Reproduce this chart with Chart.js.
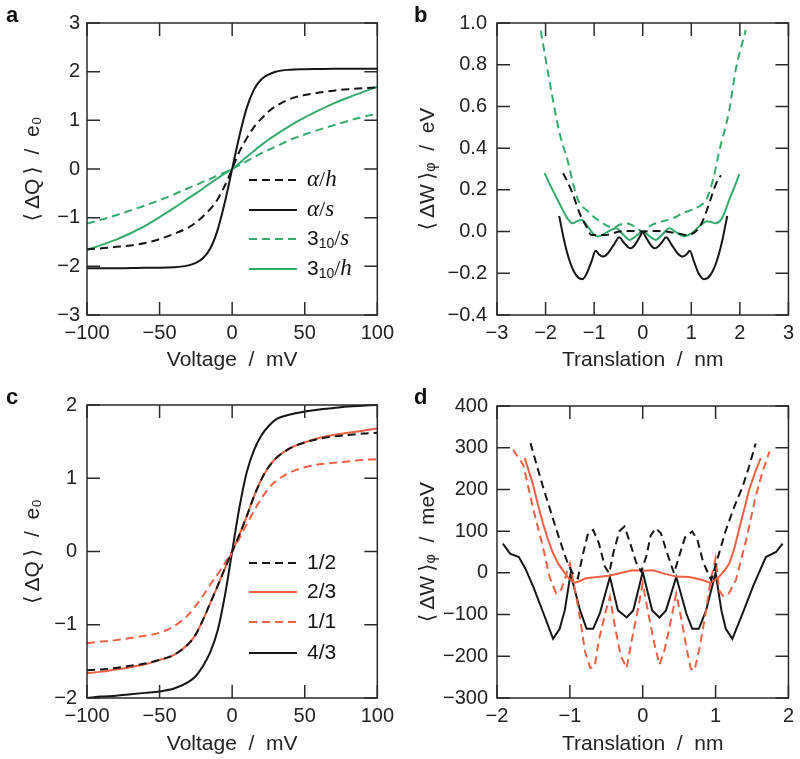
<!DOCTYPE html>
<html>
<head>
<meta charset="utf-8">
<script src="https://cdn.jsdelivr.net/npm/chart.js@4.4.0/dist/chart.umd.min.js"></script>
<style>
  body { margin: 0; background: #fff; }
  #fig { position: relative; width: 800px; height: 759px; }
  .panel { position: absolute; }
  .tag { position: absolute; font: bold 22px "Liberation Sans", sans-serif; line-height: 22px; color: #111; }
</style>
</head>
<body>
<div id="fig">
  <div class="panel" style="left:0;top:0;width:400px;height:380px"><canvas id="chartA"></canvas></div>
  <div class="panel" style="left:400px;top:0;width:400px;height:380px"><canvas id="chartB"></canvas></div>
  <div class="panel" style="left:0;top:380px;width:400px;height:379px"><canvas id="chartC"></canvas></div>
  <div class="panel" style="left:400px;top:380px;width:400px;height:379px"><canvas id="chartD"></canvas></div>
  <div class="tag" style="left:6px;top:4px">a</div>
  <div class="tag" style="left:414px;top:4px">b</div>
  <div class="tag" style="left:6px;top:386px">c</div>
  <div class="tag" style="left:414px;top:386px">d</div>
</div>
<script>
// ---- panel a : charge vs voltage ----
const voltage = [-100, -90, -80, -70, -60, -50, -40, -30, -25, -20, -15, -10, -5, 0, 5, 10, 15, 20, 25, 30, 40, 50, 60, 70, 80, 90, 100];
const qAlphaH = [-1.65, -1.63, -1.60, -1.57, -1.52, -1.44, -1.33, -1.20, -1.10, -0.97, -0.82, -0.62, -0.34, 0, 0.36, 0.63, 0.86, 1.03, 1.18, 1.29, 1.44, 1.52, 1.57, 1.61, 1.64, 1.66, 1.68];
const qAlphaS = [-2.04, -2.04, -2.04, -2.035, -2.03, -2.03, -2.02, -1.98, -1.93, -1.83, -1.63, -1.25, -0.68, 0, 0.68, 1.25, 1.63, 1.84, 1.94, 2.0, 2.04, 2.05, 2.055, 2.06, 2.06, 2.06, 2.06];
const q310S = [-1.12, -1.04, -0.95, -0.85, -0.75, -0.64, -0.52, -0.39, -0.33, -0.26, -0.20, -0.13, -0.07, 0, 0.08, 0.16, 0.24, 0.32, 0.39, 0.46, 0.60, 0.71, 0.81, 0.90, 0.99, 1.07, 1.14];
const q310H = [-1.66, -1.56, -1.45, -1.32, -1.17, -0.99, -0.80, -0.60, -0.50, -0.40, -0.29, -0.19, -0.09, 0, 0.12, 0.25, 0.37, 0.49, 0.60, 0.70, 0.89, 1.06, 1.21, 1.35, 1.47, 1.58, 1.69];
const labelsA = ['α/h', 'α/s', '3₁₀/s', '3₁₀/h'];

// ---- panel b : energy vs translation ----
const bxAlphaS = [-1.72, -1.62, -1.52, -1.42, -1.32, -1.24, -1.15, -1.05, -0.97, -0.9, -0.82, -0.72, -0.6, -0.48, -0.4, -0.3, -0.24, -0.15, -0.06, 0, 0.06, 0.15, 0.24, 0.3, 0.4, 0.48, 0.6, 0.72, 0.82, 0.9, 0.97, 1.05, 1.15, 1.26, 1.34, 1.44, 1.54, 1.64, 1.74];
const bwAlphaS = [0.075, -0.04, -0.13, -0.19, -0.222, -0.228, -0.2, -0.14, -0.092, -0.11, -0.12, -0.105, -0.065, -0.027, -0.05, -0.075, -0.08, -0.06, -0.025, -0.003, -0.025, -0.06, -0.08, -0.075, -0.05, -0.027, -0.065, -0.105, -0.12, -0.11, -0.092, -0.14, -0.2, -0.228, -0.222, -0.19, -0.13, -0.04, 0.075];
const bxAlphaH = [-1.64, -1.54, -1.44, -1.3, -1.16, -1.06, -0.9, -0.75, -0.48, -0.25, 0, 0.25, 0.48, 0.75, 0.89, 1.0, 1.09, 1.23, 1.37, 1.5, 1.61];
const bwAlphaH = [0.28, 0.235, 0.18, 0.088, 0.024, -0.016, -0.017, -0.016, 0, 0.003, 0, 0.003, 0, -0.01, -0.016, -0.012, 0, 0.048, 0.136, 0.224, 0.27];
const bx310S = [-2.1, -1.91, -1.71, -1.54, -1.4, -1.3, -1.16, -0.95, -0.75, -0.62, -0.45, -0.34, -0.17, 0, 0.17, 0.34, 0.5, 0.68, 0.82, 0.96, 1.16, 1.3, 1.4, 1.47, 1.57, 1.78, 1.91, 2.12];
const bw310S = [0.963, 0.71, 0.47, 0.335, 0.2, 0.136, 0.104, 0.06, 0.03, 0.018, 0.035, 0.04, 0.025, 0, 0.03, 0.045, 0.055, 0.07, 0.088, 0.1, 0.12, 0.15, 0.21, 0.27, 0.38, 0.58, 0.77, 0.966];
const bx310H = [-2.02, -1.9, -1.78, -1.66, -1.54, -1.44, -1.35, -1.26, -1.13, -1.02, -0.92, -0.75, -0.55, -0.4, -0.27, -0.13, 0, 0.13, 0.27, 0.4, 0.55, 0.7, 0.85, 1.0, 1.16, 1.33, 1.42, 1.5, 1.61, 1.7, 1.78, 1.9, 1.99];
const bw310H = [0.28, 0.22, 0.165, 0.11, 0.06, 0.04, 0.05, 0.056, 0.024, -0.01, -0.024, -0.005, 0.016, -0.015, -0.04, -0.02, 0, -0.02, -0.04, -0.015, 0.016, -0.005, -0.022, -0.01, 0.024, 0.05, 0.045, 0.04, 0.056, 0.1, 0.152, 0.22, 0.276];

// ---- panel c : charge vs voltage, ratios ----
const qRatio12 = [-1.62, -1.61, -1.59, -1.56, -1.53, -1.48, -1.41, -1.26, -1.13, -0.93, -0.70, -0.47, -0.23, 0, 0.23, 0.48, 0.75, 0.98, 1.15, 1.27, 1.41, 1.49, 1.54, 1.57, 1.59, 1.61, 1.62];
const qRatio23 = [-1.66, -1.64, -1.61, -1.58, -1.54, -1.48, -1.41, -1.26, -1.13, -0.93, -0.70, -0.47, -0.23, 0, 0.23, 0.48, 0.75, 0.98, 1.15, 1.27, 1.41, 1.49, 1.55, 1.59, 1.62, 1.65, 1.68];
const qRatio11 = [-1.25, -1.23, -1.21, -1.18, -1.15, -1.11, -1.02, -0.86, -0.74, -0.60, -0.45, -0.31, -0.16, 0, 0.18, 0.37, 0.55, 0.72, 0.86, 0.96, 1.08, 1.15, 1.19, 1.21, 1.23, 1.25, 1.26];
const qRatio43 = [-2.0, -1.98, -1.97, -1.95, -1.93, -1.91, -1.87, -1.78, -1.70, -1.56, -1.37, -1.08, -0.60, 0, 0.60, 1.08, 1.38, 1.58, 1.71, 1.80, 1.87, 1.91, 1.94, 1.96, 1.98, 1.99, 2.0];
const labelsC = ['1/2', '2/3', '1/1', '4/3'];

// ---- panel d : energy vs translation, ratios ----
const dx12 = [-1.54, -1.45, -1.37, -1.25, -1.14, -1.03, -0.95, -0.89, -0.82, -0.75, -0.68, -0.6, -0.52, -0.46, -0.4, -0.32, -0.25, -0.17, -0.09, -0.02, 0.05, 0.11, 0.18, 0.25, 0.33, 0.43, 0.5, 0.58, 0.68, 0.75, 0.83, 0.94, 1.02, 1.14, 1.26, 1.37, 1.46, 1.55];
const dw12 = [311, 255, 207, 140, 79, 23, -5, -13, 45, 95, 103, 70, 15, -1, 50, 100, 111, 70, 25, 3, 40, 90, 107, 95, 50, -1, 40, 85, 99, 80, 25, -17, 30, 102, 160, 206, 255, 310];
const dx23 = [-1.62, -1.51, -1.44, -1.37, -1.3, -1.23, -1.16, -1.1, -1.03, -0.94, -0.87, -0.78, -0.62, -0.46, -0.32, -0.14, 0, 0.14, 0.32, 0.46, 0.64, 0.82, 0.93, 1.0, 1.05, 1.12, 1.19, 1.26, 1.32, 1.39, 1.46, 1.54, 1.62];
const dw23 = [275, 215, 165, 119, 80, 47, 22, 7, -10, -24, -20, -13, -10, -7, -1, 6, 5, 6, -3, -9, -10, -17, -24, -16, -9, 5, 23, 60, 103, 150, 199, 240, 275];
const dx11 = [-1.78, -1.64, -1.51, -1.44, -1.37, -1.28, -1.19, -1.12, -1.06, -1.0, -0.93, -0.86, -0.79, -0.72, -0.66, -0.6, -0.52, -0.45, -0.38, -0.3, -0.22, -0.16, -0.08, 0, 0.08, 0.16, 0.23, 0.3, 0.38, 0.46, 0.53, 0.6, 0.66, 0.71, 0.78, 0.86, 0.93, 1.0, 1.05, 1.1, 1.17, 1.28, 1.42, 1.55, 1.64, 1.74];
const dw11 = [295, 259, 159, 110, 63, -9, -49, -41, -10, 23, -40, -110, -190, -228, -225, -160, -100, -58, -130, -200, -228, -170, -100, -25, -100, -170, -220, -185, -120, -50, -110, -180, -230, -234, -180, -100, -20, 35, -42, -55, -53, -17, 79, 183, 240, 291];
const dx43 = [-1.92, -1.82, -1.7, -1.61, -1.5, -1.36, -1.23, -1.14, -1.07, -0.99, -0.86, -0.77, -0.68, -0.59, -0.45, -0.34, -0.22, -0.13, 0, 0.13, 0.23, 0.32, 0.46, 0.6, 0.68, 0.77, 0.87, 1.0, 1.08, 1.14, 1.23, 1.37, 1.51, 1.62, 1.69, 1.83, 1.92];
const dw43 = [70, 46, 38, 10, -34, -98, -158, -134, -90, -2, -90, -134, -134, -98, -10, -90, -107, -90, 2, -90, -107, -90, -10, -98, -134, -134, -90, 0, -90, -134, -158, -98, -34, 10, 38, 50, 70];

const BLACK = '#161616';
const GREEN = '#36a96e';
const RED = '#ec6044';
const DASH = [8, 5];
const TICK_LEN = 13;
const FONT = '"Liberation Sans", "DejaVu Sans", sans-serif';

function pts(xs, ys) {
  return xs.map((x, i) => ({ x: x, y: ys[i] }));
}

function minus(v) {
  return String(v).replace('-', '\u2212');
}

function fixed1(v) {
  if (Math.abs(v) < 1e-9) v = 0;
  return minus(v.toFixed(1));
}

// frame around the plot with inward ticks on all four sides
const frameTicks = {
  id: 'frameTicks',
  afterDatasetsDraw(chart) {
    const { ctx, chartArea: a, scales } = chart;
    ctx.save();
    ctx.strokeStyle = '#2a2a2a';
    ctx.lineWidth = 1.5;
    ctx.strokeRect(a.left, a.top, a.right - a.left, a.bottom - a.top);
    ctx.beginPath();
    scales.x.ticks.forEach(t => {
      const px = scales.x.getPixelForValue(t.value);
      ctx.moveTo(px, a.bottom); ctx.lineTo(px, a.bottom - TICK_LEN);
      ctx.moveTo(px, a.top); ctx.lineTo(px, a.top + TICK_LEN);
    });
    scales.y.ticks.forEach(t => {
      const py = scales.y.getPixelForValue(t.value);
      ctx.moveTo(a.left, py); ctx.lineTo(a.left + TICK_LEN, py);
      ctx.moveTo(a.right, py); ctx.lineTo(a.right - TICK_LEN, py);
    });
    ctx.stroke();
    ctx.restore();
  }
};

// label with math parts: greek / letters italic serif, subscripts smaller
function drawLabel(ctx, text, x, y) {
  ctx.textBaseline = 'middle';
  ctx.textAlign = 'left';
  ctx.fillStyle = '#111';
  if (!/[α₀-₉]/.test(text)) {
    ctx.font = '21px ' + FONT;
    ctx.fillText(text, x, y);
    return;
  }
  const subMap = { '₀': '0', '₁': '1' };
  let cx = x;
  for (const ch of text) {
    let dy = 0;
    let s = ch;
    if (subMap[ch]) {
      ctx.font = '14px ' + FONT; s = subMap[ch]; dy = 5;
    } else if (/[0-9]/.test(ch)) {
      ctx.font = '21px ' + FONT;
    } else if (ch === '/') {
      ctx.font = '22px "Liberation Serif", serif';
    } else {
      ctx.font = 'italic 23px "Liberation Serif", serif';
    }
    ctx.fillText(s, cx, y + dy);
    cx += ctx.measureText(s).width;
  }
}

const insideLegend = {
  id: 'insideLegend',
  afterDraw(chart, args, opts) {
    if (!opts || !opts.rows) return;
    const ctx = chart.ctx;
    chart.data.datasets.forEach((ds, i) => {
      const y = opts.rows[i];
      ctx.save();
      ctx.strokeStyle = ds.borderColor;
      ctx.lineWidth = ds.borderWidth;
      ctx.setLineDash(ds.borderDash || []);
      ctx.beginPath();
      ctx.moveTo(opts.x0, y);
      ctx.lineTo(opts.x1, y);
      ctx.stroke();
      ctx.restore();
      drawLabel(ctx, ds.label, opts.tx, y);
    });
  }
};

function line(label, data, color, dashed, smooth) {
  return {
    label: label,
    data: data,
    borderColor: color,
    borderWidth: 2,
    borderDash: dashed ? DASH : [],
    pointRadius: 0,
    fill: false,
    tension: 0,
    cubicInterpolationMode: smooth ? 'monotone' : 'default'
  };
}

function makeChart(id, datasets, cfg) {
  const tickFont = { family: FONT, size: 20 };
  const titleFont = { family: FONT, size: 21 };
  return new Chart(document.getElementById(id), {
    type: 'line',
    data: { datasets: datasets },
    options: {
      responsive: true,
      maintainAspectRatio: false,
      animation: false,
      layout: { padding: { top: cfg.top, right: cfg.right, left: 0, bottom: 0 } },
      plugins: {
        legend: { display: false },
        tooltip: { enabled: false },
        insideLegend: cfg.legend || {}
      },
      scales: {
        x: {
          type: 'linear',
          min: cfg.xMin, max: cfg.xMax,
          grid: { display: false, drawTicks: false },
          border: { display: false },
          ticks: {
            stepSize: cfg.xStep, autoSkip: false, maxRotation: 0, padding: 6,
            color: '#222', font: tickFont,
            callback: v => minus(v)
          },
          title: { display: true, text: cfg.xTitle, color: '#222', font: titleFont, padding: { top: 0, bottom: cfg.xTitlePad } },
          afterFit: s => { s.height = cfg.xHeight; }
        },
        y: {
          type: 'linear',
          min: cfg.yMin, max: cfg.yMax,
          grid: { display: false, drawTicks: false },
          border: { display: false },
          ticks: {
            stepSize: cfg.yStep, autoSkip: false, padding: cfg.yTickPad,
            color: '#222', font: tickFont,
            callback: cfg.yFmt
          },
          title: { display: true, text: cfg.yTitle, color: '#222', font: titleFont, padding: { top: cfg.yTitlePad, bottom: 0 } },
          afterFit: s => { s.width = cfg.yWidth; }
        }
      }
    },
    plugins: [frameTicks, insideLegend]
  });
}

makeChart('chartA', [
  line(labelsA[0], pts(voltage, qAlphaH), BLACK, true, true),
  line(labelsA[1], pts(voltage, qAlphaS), BLACK, false, true),
  line(labelsA[2], pts(voltage, q310S), GREEN, true, true),
  line(labelsA[3], pts(voltage, q310H), GREEN, false, true)
], {
  top: 23, right: 20, xHeight: 65, yWidth: 87,
  xMin: -100, xMax: 100, xStep: 50, yMin: -3, yMax: 3, yStep: 1,
  yFmt: v => minus(v), yTickPad: 7,
  xTitle: 'Voltage  /  mV', yTitle: '⟨\u2009ΔQ\u2009⟩  /  e₀', xTitlePad: 7, yTitlePad: 21,
  legend: { x0: 249, x1: 297, tx: 307, rows: [180, 210, 239, 269] }
});

makeChart('chartB', [
  line('α/s', pts(bxAlphaS, bwAlphaS), BLACK, false, true),
  line('α/h', pts(bxAlphaH, bwAlphaH), BLACK, true, true),
  line('3₁₀/s', pts(bx310S, bw310S), GREEN, true, true),
  line('3₁₀/h', pts(bx310H, bw310H), GREEN, false, true)
], {
  top: 23, right: 11, xHeight: 65, yWidth: 97,
  xMin: -3, xMax: 3, xStep: 1, yMin: -0.4, yMax: 1.0, yStep: 0.2,
  yFmt: fixed1, yTickPad: 10,
  xTitle: 'Translation  /  nm', yTitle: '⟨\u2009ΔW\u2009⟩ᵩ  /  eV', xTitlePad: 7, yTitlePad: 16
});

makeChart('chartC', [
  line(labelsC[0], pts(voltage, qRatio12), BLACK, true, true),
  line(labelsC[1], pts(voltage, qRatio23), RED, false, true),
  line(labelsC[2], pts(voltage, qRatio11), RED, true, true),
  line(labelsC[3], pts(voltage, qRatio43), BLACK, false, true)
], {
  top: 25, right: 20, xHeight: 61, yWidth: 87,
  xMin: -100, xMax: 100, xStep: 50, yMin: -2, yMax: 2, yStep: 1,
  yFmt: v => minus(v), yTickPad: 10,
  xTitle: 'Voltage  /  mV', yTitle: '⟨\u2009ΔQ\u2009⟩  /  e₀', xTitlePad: 2, yTitlePad: 21,
  legend: { x0: 249, x1: 297, tx: 307, rows: [183, 212, 242, 273] }
});

makeChart('chartD', [
  line('1/2', pts(dx12, dw12), BLACK, true, false),
  line('2/3', pts(dx23, dw23), RED, false, false),
  line('1/1', pts(dx11, dw11), RED, true, false),
  line('4/3', pts(dx43, dw43), BLACK, false, false)
], {
  top: 26, right: 11, xHeight: 61, yWidth: 97,
  xMin: -2, xMax: 2, xStep: 1, yMin: -300, yMax: 400, yStep: 100,
  yFmt: v => minus(v), yTickPad: 9,
  xTitle: 'Translation  /  nm', yTitle: '⟨\u2009ΔW\u2009⟩ᵩ  /  meV', xTitlePad: 2, yTitlePad: 16
});
</script>
</body>
</html>
